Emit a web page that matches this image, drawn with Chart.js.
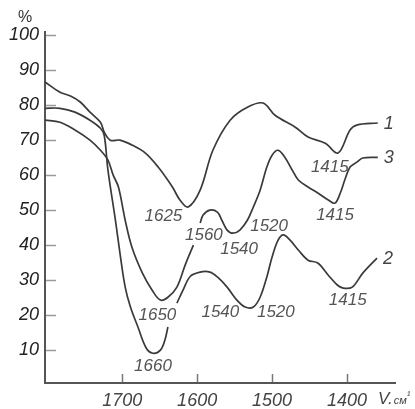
<!DOCTYPE html>
<html><head><meta charset="utf-8">
<script src="https://cdn.jsdelivr.net/npm/chart.js@4/dist/chart.umd.min.js"></script>
<style>html,body{margin:0;padding:0;background:#fff;}#wrap{width:415px;height:409px;}</style>
</head><body><div id="wrap"><canvas id="c" width="415" height="409"></canvas></div>
<script>
// ---- data (wavenumber, cm^-1 ; transmission, %) ----
const yTickValues = [10, 20, 30, 40, 50, 60, 70, 80, 90, 100];
const xTickValues = [1700, 1600, 1500, 1400];

const curve1Wn  = [1803, 1783, 1769, 1756, 1743, 1729, 1724, 1716, 1703, 1687, 1669, 1652, 1633, 1623, 1612, 1596, 1579, 1556, 1533, 1512, 1496, 1469, 1452, 1429, 1412, 1396, 1387, 1359];
const curve1Pct = [86.6, 83.7, 82.6, 80.9, 78.0, 75.1, 72.3, 70.0, 70.0, 68.6, 66.3, 62.3, 56.6, 52.9, 50.9, 55.7, 67.1, 75.7, 79.4, 80.6, 77.1, 73.7, 70.9, 69.1, 66.3, 72.9, 74.3, 74.9];

const curve2Wn  = [1803, 1783, 1763, 1743, 1729, 1724, 1719, 1709, 1703, 1696, 1689, 1679, 1668, 1659, 1649, 1643, 1639, 1633, 1627, 1619, 1609, 1596, 1583, 1573, 1560, 1547, 1536, 1525, 1516, 1507, 1500, 1492, 1485, 1476, 1465, 1452, 1439, 1425, 1413, 1405, 1393, 1379, 1360];
const curve2Pct = [79.1, 79.1, 78.0, 75.7, 73.4, 71.4, 61.4, 47.1, 37.7, 28.0, 22.3, 16.6, 10.6, 9.1, 10.0, 12.9, 16.6, null, 23.4, 27.1, 31.1, 32.3, 32.3, 30.9, 28.0, 24.3, 22.3, 22.3, 25.1, 30.9, 36.6, 41.4, 42.9, 41.4, 38.6, 35.7, 34.9, 31.4, 28.6, 27.7, 28.0, 32.0, 36.3];

const curve3Wn  = [1803, 1783, 1763, 1743, 1729, 1719, 1712, 1705, 1696, 1687, 1673, 1660, 1649, 1639, 1627, 1616, 1605, 1600, 1596, 1592, 1583, 1573, 1567, 1560, 1552, 1543, 1533, 1525, 1516, 1507, 1500, 1492, 1483, 1473, 1465, 1452, 1439, 1425, 1416, 1409, 1403, 1396, 1387, 1379, 1359];
const curve3Pct = [75.7, 75.1, 72.9, 70.0, 67.1, 64.3, 60.0, 56.6, 47.1, 39.4, 32.0, 27.1, 24.3, 25.1, 28.0, 34.3, 40.0, null, 46.3, 48.6, 50.0, 49.4, 47.1, 44.3, 43.4, 44.3, 47.1, 50.9, 55.7, 62.3, 65.7, 67.1, 65.1, 61.4, 58.6, 56.6, 54.9, 52.9, 52.0, 54.9, 58.6, 62.3, 63.7, 64.9, 65.1];

const seriesNames = ['1', '2', '3'];

const peakText = ['1625', '1560', '1540', '1520', '1415', '1415', '1650', '1540', '1520', '1415', '1660'];
const peakWn   = [1645, 1591, 1544, 1504, 1423, 1416, 1653, 1569, 1495, 1399, 1659];
const peakPct  = [48.3, 42.9, 38.9, 45.4, 62.3, 48.6, 20.0, 20.9, 20.9, 24.3, 5.4];

// ---- build ----
function pts(wn, pct) { return wn.map((w, i) => ({ x: w, y: pct[i] })); }
const LINE = '#3a3a3a';
const FONT = '"Liberation Sans", Arial, sans-serif';

const overlay = {
  id: 'overlay',
  afterDraw(chart) {
    const { ctx, chartArea: a, scales: { x, y } } = chart;
    ctx.save();
    // inner tick marks
    ctx.strokeStyle = '#9a9a9a';
    ctx.lineWidth = 1.5;
    yTickValues.forEach(v => {
      const py = Math.round(y.getPixelForValue(v)) + 0.5;
      ctx.beginPath(); ctx.moveTo(a.left + 1, py); ctx.lineTo(a.left + 11, py); ctx.stroke();
    });
    ctx.strokeStyle = '#777';
    xTickValues.forEach(v => {
      const px = Math.round(x.getPixelForValue(v)) + 0.5;
      ctx.beginPath(); ctx.moveTo(px, a.bottom - 1); ctx.lineTo(px, a.bottom - 9); ctx.stroke();
    });
    // peak annotations
    ctx.fillStyle = '#555';
    ctx.font = 'italic 17px ' + FONT;
    ctx.textAlign = 'center';
    ctx.textBaseline = 'middle';
    peakText.forEach((t, i) => {
      ctx.fillText(t, x.getPixelForValue(peakWn[i]), y.getPixelForValue(peakPct[i]));
    });
    // series end labels
    ctx.font = 'italic 18px ' + FONT;
    ctx.fillStyle = '#444';
    ctx.textAlign = 'left';
    chart.data.datasets.forEach((ds, i) => {
      const d = ds.data;
      const last = d[d.length - 1];
      const px = x.getPixelForValue(last.x), py = y.getPixelForValue(last.y);
      ctx.fillText(seriesNames[i], px + 6, py + 1);
    });
    // % unit
    ctx.font = '16px ' + FONT;
    ctx.fillStyle = '#333';
    ctx.textAlign = 'center';
    ctx.fillText('%', a.left - 20, a.top - 14);
    // x unit
    ctx.textAlign = 'left';
    ctx.textBaseline = 'alphabetic';
    ctx.font = 'italic 17px ' + FONT;
    ctx.fillStyle = '#444';
    const ux = a.right - 17, uy = a.bottom + 21;
    ctx.fillText('V.', ux, uy);
    const w1 = ctx.measureText('V.').width;
    ctx.font = 'italic 11px ' + FONT;
    ctx.fillText('см', ux + w1 + 1, uy);
    const w2 = ctx.measureText('см').width;
    ctx.fillText('¹', ux + w1 + 1 + w2, uy - 5);
    ctx.restore();
  }
};

const tickFont = { family: FONT, size: 18, style: 'italic' };

new Chart(document.getElementById('c'), {
  type: 'line',
  data: {
    datasets: [
      { label: seriesNames[0], data: pts(curve1Wn, curve1Pct) },
      { label: seriesNames[1], data: pts(curve2Wn, curve2Pct) },
      { label: seriesNames[2], data: pts(curve3Wn, curve3Pct) }
    ].map(ds => Object.assign(ds, {
      borderColor: LINE, borderWidth: 1.7, pointRadius: 0, tension: 0.35,
      fill: false, spanGaps: false, cubicInterpolationMode: 'default'
    }))
  },
  options: {
    responsive: false,
    animation: false,
    devicePixelRatio: 1,
    layout: { padding: { top: 32, right: 20, left: 0, bottom: 0 } },
    plugins: { legend: { display: false }, tooltip: { enabled: false } },
    scales: {
      x: {
        type: 'linear', reverse: true, min: 1336, max: 1803,
        afterBuildTicks: s => { s.ticks = xTickValues.map(v => ({ value: v })); },
        afterFit: s => { s.height = 26; },
        grid: { display: false, drawTicks: false },
        border: { display: true, color: '#555', width: 2 },
        ticks: { font: tickFont, color: '#444', padding: 7, maxRotation: 0, autoSkip: false, callback: v => String(v) }
      },
      y: {
        min: 0.6, max: 100.9,
        afterBuildTicks: s => { s.ticks = yTickValues.map(v => ({ value: v })); },
        afterFit: s => { s.width = 45; },
        grid: { display: false, drawTicks: false },
        border: { display: true, color: '#555', width: 2 },
        ticks: { font: tickFont, color: '#222', padding: 6, autoSkip: false, callback: v => String(v) }
      }
    }
  },
  plugins: [overlay]
});
</script>
</body></html>
